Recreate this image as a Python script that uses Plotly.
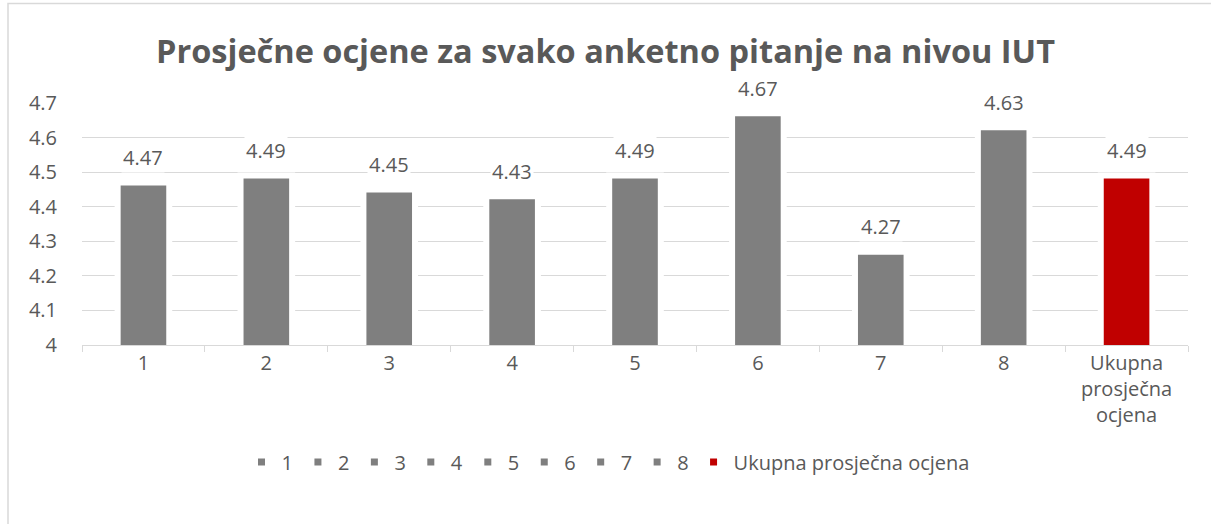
import plotly.graph_objects as go

categories = ["1", "2", "3", "4", "5", "6", "7", "8", "Ukupna prosječna ocjena"]
tick_labels = ["1", "2", "3", "4", "5", "6", "7", "8", "Ukupna<br>prosječna<br>ocjena"]
values = [4.47, 4.49, 4.45, 4.43, 4.49, 4.67, 4.27, 4.63, 4.49]
bar_colors = ["#7f7f7f"] * 8 + ["#c00000"]

TEXT = "#595959"
FONT = "Open Sans"

fig = go.Figure()
for i, (cat, lab, val, col) in enumerate(zip(categories, tick_labels, values, bar_colors)):
    fig.add_trace(go.Bar(
        x=[lab], y=[val], name=cat,
        marker=dict(color=col, line=dict(color="white", width=6)),
        hoverinfo="x+y",
    ))
    fig.add_annotation(
        x=i, y=val, text=f"{val:.2f}", showarrow=False,
        yanchor="middle", yshift=25, bgcolor="white",
        font=dict(family=FONT, size=20, color=TEXT),
    )

fig.update_layout(
    width=1211, height=524,
    margin=dict(l=82, r=23, t=103, b=179),
    paper_bgcolor="white", plot_bgcolor="white",
    barmode="overlay", bargap=0.58,
    title=dict(text="<b>Prosječne ocjene za svako anketno pitanje na nivou IUT</b>",
               x=0.5, xanchor="center", y=1 - 52 / 524, yanchor="middle",
               font=dict(family=FONT, size=32.5, color=TEXT)),
    font=dict(family=FONT, size=20, color=TEXT),
    legend=dict(orientation="h", x=0.5 - 27 / 1106, xanchor="center", y=-0.4835, yanchor="middle",
                font=dict(family=FONT, size=20, color=TEXT), itemclick=False),
    showlegend=True,
)
fig.update_xaxes(
    type="category", tickson="boundaries", ticks="outside", ticklen=6,
    tickcolor="#d9d9d9", showline=True, linecolor="#d9d9d9", linewidth=1,
    showgrid=False, tickfont=dict(family=FONT, size=20, color=TEXT),
)
fig.update_yaxes(
    range=[4, 4.7], dtick=0.1, tickformat="~g", showgrid=True, gridcolor="#d9d9d9",
    gridwidth=1, zeroline=False, showline=False, ticks="outside", ticklen=20,
    tickcolor="rgba(0,0,0,0)", tickfont=dict(family=FONT, size=20, color=TEXT),
)
fig.add_shape(type="rect", xref="paper", yref="paper",
              x0=(8 - 82) / 1106, x1=1.03, y0=-0.8, y1=(345 - 3.5) / 242,
              line=dict(color="#d9d9d9", width=1.5), layer="below")

fig.write_html("out.html", config={"displayModeBar": False},
               post_script="document.body.style.margin='0';")
